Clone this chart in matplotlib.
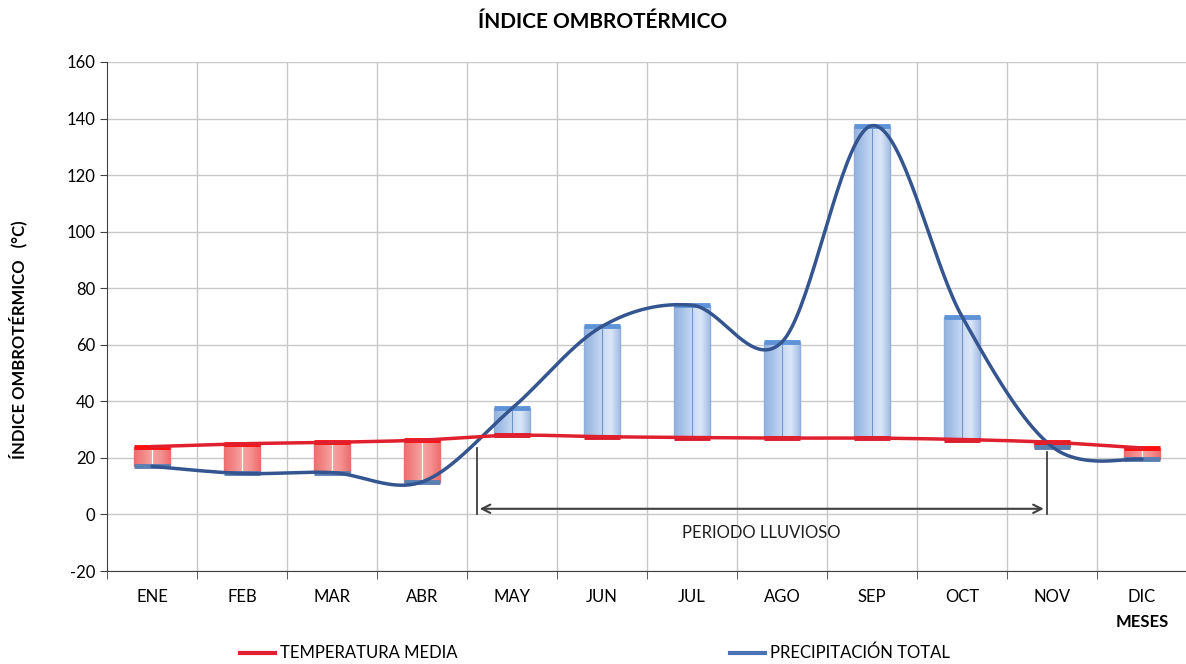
import numpy as np
import matplotlib
matplotlib.use("Agg")
import matplotlib.pyplot as plt
from matplotlib.colors import LinearSegmentedColormap

months = ["ENE", "FEB", "MAR", "ABR", "MAY", "JUN", "JUL", "AGO", "SEP", "OCT", "NOV", "DIC"]
temperatura = [24.0, 25.0, 25.5, 26.3, 28.0, 27.5, 27.2, 27.0, 27.0, 26.5, 25.5, 23.5]
precipitacion = [17.0, 14.5, 14.8, 11.5, 37.5, 66.5, 74.0, 61.0, 137.5, 70.0, 24.0, 19.5]
yticks = [-20, 0, 20, 40, 60, 80, 100, 120, 140, 160]
periodo = (3.61, 9.94)

FONT = ["Lato", "DejaVu Sans"]
plt.rcParams['font.family'] = FONT
plt.rcParams['axes.unicode_minus'] = False


def smooth(xs, ys, n=40):
    # Catmull-Rom style smoothing (like spreadsheet smoothed lines)
    xs = np.asarray(xs, float); ys = np.asarray(ys, float)
    px = np.concatenate([[xs[0]], xs, [xs[-1]]])
    py = np.concatenate([[ys[0]], ys, [ys[-1]]])
    outx, outy = [], []
    for i in range(1, len(px) - 2):
        p0 = np.array([px[i - 1], py[i - 1]]); p1 = np.array([px[i], py[i]])
        p2 = np.array([px[i + 1], py[i + 1]]); p3 = np.array([px[i + 2], py[i + 2]])
        c1 = p1 + (p2 - p0) / 6.0
        c2 = p2 - (p3 - p1) / 6.0
        t = np.linspace(0, 1, n)[:, None]
        pts = (1 - t) ** 3 * p1 + 3 * (1 - t) ** 2 * t * c1 + 3 * (1 - t) * t ** 2 * c2 + t ** 3 * p2
        outx.extend(pts[:, 0]); outy.extend(pts[:, 1])
    return np.array(outx), np.array(outy)


fig = plt.figure(figsize=(11.86, 6.64), dpi=100)
ax = fig.add_axes([107 / 1186, 93 / 664, 1080 / 1186, 509 / 664])
x = np.arange(len(months))

ax.set_xlim(-0.5, 11.5)
ax.set_ylim(-20, 160)
ax.set_yticks(yticks)
ax.set_xticks(x)
ax.set_xticklabels(months, fontsize=12)
ax.set_xticks(np.arange(-0.5, 12, 1), minor=True)
ax.tick_params(axis='x', which='major', length=0, pad=13)
ax.tick_params(axis='x', which='minor', length=6, color='#404040')
ax.tick_params(axis='y', length=5, color='#404040', labelsize=12)
ax.grid(False)
for yv in yticks:
    ax.axhline(yv, color='#c8c8c8', lw=1, zorder=0)
for xv in np.arange(0.5, 11.5, 1):
    ax.axvline(xv, color='#c8c8c8', lw=1, zorder=0)
for s in ['top', 'right']:
    ax.spines[s].set_visible(False)
ax.spines['left'].set_color('#404040')
ax.spines['bottom'].set_color('#404040')

blue_cmap = LinearSegmentedColormap.from_list('b', ['#94b3df', '#a9c3e8', '#c6d8f2', '#dbe7f8', '#a6bfe4'])
red_cmap = LinearSegmentedColormap.from_list('r', ['#ee6f6f', '#f38686', '#f7a3a3', '#f59090', '#ee7070'])
grad = np.linspace(0, 1, 64)[None, :]

w = 0.39
for xi, t, p in zip(x, temperatura, precipitacion):
    up = p >= t
    edge = '#8eaedb' if up else '#ea7070'
    lo, hi = min(t, p), max(t, p)
    bars = ax.bar(xi, p - t, bottom=t, width=w, color='none', edgecolor=edge, lw=1, zorder=2.5)
    im = ax.imshow(grad, cmap=blue_cmap if up else red_cmap, aspect='auto',
                   extent=(xi - w / 2, xi + w / 2, lo, hi), zorder=2, interpolation='bilinear')
    im.set_clip_path(bars[0])
    ax.plot([xi, xi], [t, p], color='#6f95c9' if up else '#ffffff', lw=0.8, zorder=3)
    ax.hlines(t, xi - w / 2, xi + w / 2, color='#d81a2a' if up else '#ff1010', lw=3.5, zorder=3)
    ax.hlines(p, xi - w / 2, xi + w / 2, color='#5f93d8' if up else '#5a7fb0', lw=3.5, zorder=3)

ax.set_xlim(-0.5, 11.5)
ax.set_ylim(-20, 160)

sx, sy = smooth(x, precipitacion)
ax.plot(sx, sy, color='#34558f', lw=2.5, zorder=4, solid_capstyle='round')
tx, ty = smooth(x, temperatura)
ax.plot(tx, ty, color='#e0202e', lw=2.5, zorder=5)

# periodo lluvioso
ax.plot([periodo[0], periodo[0]], [0, 23.5], color='#303030', lw=1.2, zorder=6)
ax.plot([periodo[1], periodo[1]], [0, 22], color='#303030', lw=1.2, zorder=6)
ax.annotate('', xy=(periodo[0], 2), xytext=(periodo[1], 2),
            arrowprops=dict(arrowstyle='<->', color='#404040', lw=1.5, mutation_scale=15), zorder=6)
ax.text((periodo[0] + periodo[1]) / 2, -6.5, 'PERIODO LLUVIOSO', ha='center', va='center',
        fontsize=12, color='#202020')

fig.text(603 / 1186, 1 - 22 / 664, 'ÍNDICE OMBROTÉRMICO', ha='center', va='center',
         fontsize=15, fontweight='bold')
fig.text(18 / 1186, 1 - 340 / 664, 'ÍNDICE OMBROTÉRMICO   (°C)', ha='center', va='center',
         rotation=90, fontsize=12, fontweight='bold')
fig.text(1142 / 1186, 1 - 622 / 664, 'MESES', ha='center', va='center',
         fontsize=12, fontweight='bold')

# legend
fig.add_artist(plt.Line2D([240 / 1186, 275 / 1186], [1 - 653 / 664] * 2, color='#e0202e', lw=3))
fig.text(280 / 1186, 1 - 653 / 664, 'TEMPERATURA MEDIA', ha='left', va='center', fontsize=12)
fig.add_artist(plt.Line2D([730 / 1186, 765 / 1186], [1 - 653 / 664] * 2, color='#4a73b5', lw=3))
fig.text(770 / 1186, 1 - 653 / 664, 'PRECIPITACIÓN TOTAL', ha='left', va='center', fontsize=12)

fig.savefig('out.png', dpi=100)
